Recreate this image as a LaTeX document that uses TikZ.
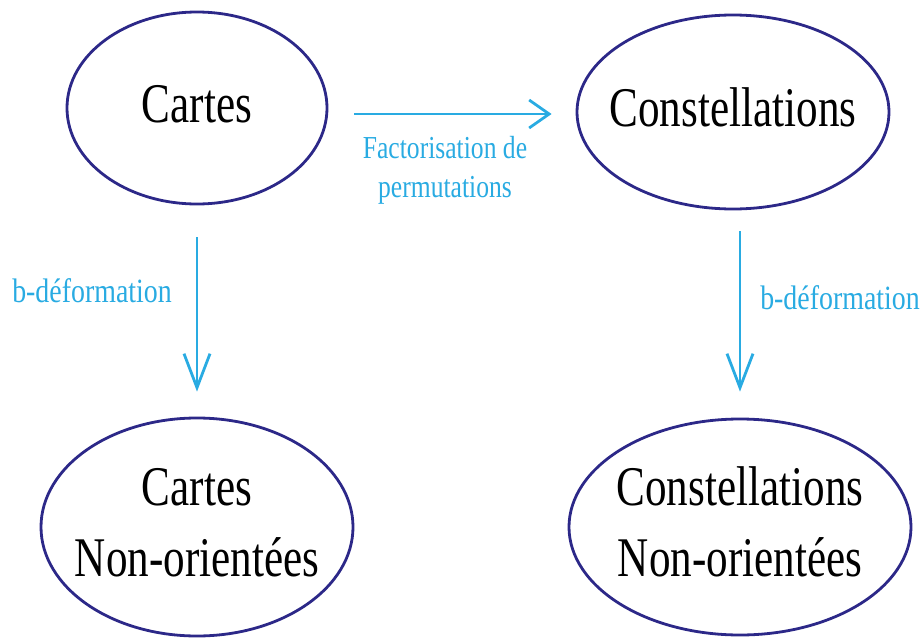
\documentclass[tikz,border=0pt]{standalone}
\usepackage{graphicx}
\usepackage{fontspec}
\setmainfont{Liberation Serif}
\usetikzlibrary{shapes.geometric,arrows.meta}
\definecolor{ellc}{RGB}{44,40,136}
\definecolor{arrc}{RGB}{41,171,226}
\newcommand{\bigtext}[1]{\makebox[0pt]{\raisebox{3pt}{\scalebox{0.77}[1]{\fontsize{56}{71}\selectfont\begin{tabular}{@{}c@{}}#1\end{tabular}}}}}
\newcommand{\smalltext}[3]{\scalebox{#1}[1]{\fontsize{#2}{39}\selectfont\color{arrc}\begin{tabular}{@{}c@{}}#3\end{tabular}}}
\tikzset{
  ell/.style={draw=ellc, line width=2.8pt, ellipse, inner sep=0pt},
  lbl/.style={inner sep=0pt},
  arr/.style={draw=arrc, line width=2.8pt},
  vtip/.style={-{Straight Barb[length=34pt,width=26pt]}},
  htip/.style={-{Straight Barb[length=20pt,width=28pt]}},
}
\begin{document}
\begin{tikzpicture}[x=1pt,y=-1pt]
\useasboundingbox (0,0) rectangle (922,640);
\node[ell, minimum width=260pt, minimum height=192pt] (cartes) at (197,108) {\bigtext{Cartes}};
\node[ell, minimum width=312pt, minimum height=194pt] (const) at (733,112) {\bigtext{Constellations}};
\node[ell, minimum width=312pt, minimum height=218pt] (cartesNO) at (197,527) {\bigtext{Cartes\\Non-orientées}};
\node[ell, minimum width=342pt, minimum height=216pt] (constNO) at (740,527) {\bigtext{Constellations\\Non-orientées}};
\draw[arr, htip, shorten <=26pt, shorten >=24pt] (cartes.east |- 0,114) -- (const.west |- 0,114);
\draw[arr, vtip, shorten <=32pt, shorten >=25pt] (cartes.south) -- (cartesNO.north);
\draw[arr, vtip, shorten <=21pt, shorten >=26pt] (constNO.north |- const.south) -- (constNO.north);
\node[lbl] (lblfact) at (445,170) {\smalltext{0.80}{32}{Factorisation de\\permutations}};
\node[lbl] (lbldefl) at (92,295) {\smalltext{0.82}{34}{b-déformation}};
\node[lbl] (lbldefr) at (840,302) {\smalltext{0.82}{34}{b-déformation}};
\end{tikzpicture}
\end{document}
